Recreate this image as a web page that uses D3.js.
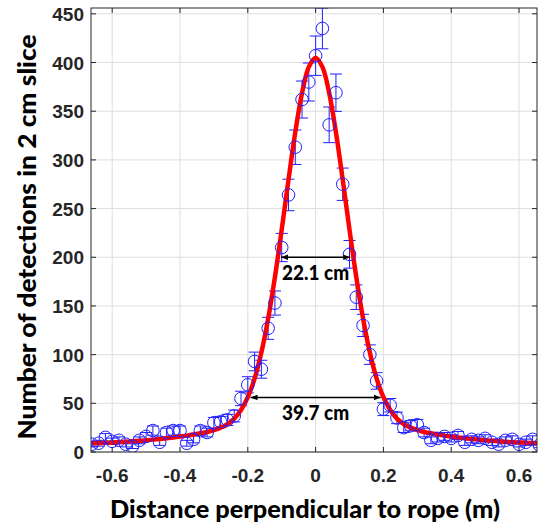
<!DOCTYPE html>
<html>
<head>
<meta charset="utf-8">
<script src="https://cdn.jsdelivr.net/npm/d3@7/dist/d3.min.js"></script>
<style>
  html, body { margin: 0; padding: 0; background: #fff; }
  svg { display: block; }
</style>
</head>
<body>
<svg id="chart" width="538" height="524"></svg>
<script>
// ---- data ----
const xs = [-0.66,-0.64,-0.62,-0.60,-0.58,-0.56,-0.54,-0.52,-0.50,-0.48,-0.46,-0.44,-0.42,-0.40,-0.38,-0.36,-0.34,-0.32,-0.30,-0.28,-0.26,-0.24,-0.22,-0.20,-0.18,-0.16,-0.14,-0.12,-0.10,-0.08,-0.06,-0.04,-0.02,0.00,0.02,0.04,0.06,0.08,0.10,0.12,0.14,0.16,0.18,0.20,0.22,0.24,0.26,0.28,0.30,0.32,0.34,0.36,0.38,0.40,0.42,0.44,0.46,0.48,0.50,0.52,0.54,0.56,0.58,0.60,0.62,0.64,0.66];
const counts = [8,9,15,11,12,8,6,12,16,22,10,20,22,22,9,13,22,20,30,31,33,37,55,69,93,85,127,153,210,264,313,362,380,407,435,336,369,275,203,159,130,100,73,44,48,35,25,27,28,20,12,14,16,14,17,10,13,12,14,10,8,12,13,8,10,13,7];
const errors = [2.8,3.0,3.9,3.3,3.5,2.8,2.4,3.5,4.0,4.7,3.2,4.5,4.7,4.7,3.0,3.6,4.7,4.5,5.5,5.6,5.7,6.1,7.4,8.3,9.6,9.2,11.3,12.4,14.5,16.2,17.7,19.0,19.5,20.2,20.9,18.3,19.2,16.6,14.2,12.6,11.4,10.0,8.5,6.6,6.9,5.9,5.0,5.2,5.3,4.5,3.5,3.7,4.0,3.7,4.1,3.2,3.6,3.5,3.7,3.2,2.8,3.5,3.6,2.8,3.2,3.6,2.6];
const fitY = [9.0,9.2,9.5,9.8,10.1,10.5,11.0,11.5,12.0,12.7,13.4,14.1,15.0,15.9,16.8,17.9,19.2,20.6,22.5,25.0,28.7,34.3,43.1,56.3,75.4,102.1,136.9,179.6,228.2,279.6,328.3,368.7,395.5,405,395.5,368.7,328.3,279.6,228.2,179.6,136.9,102.1,75.4,56.3,43.1,34.3,28.7,25.0,22.5,20.6,19.2,17.9,16.8,15.9,15.0,14.1,13.4,12.7,12.0,11.5,11.0,10.5,10.1,9.8,9.5,9.2,9.0];
const xTicks = [-0.6,-0.4,-0.2,0,0.2,0.4,0.6];
const xTickLabels = ["-0.6","-0.4","-0.2","0","0.2","0.4","0.6"];
const yTicks = [0,50,100,150,200,250,300,350,400,450];
const annotations = [
  {label: "22.1 cm", x0: -0.102, x1: 0.102, y: 200},
  {label: "39.7 cm", x0: -0.192, x1: 0.192, y: 56}
];
const xTitle = "Distance perpendicular to rope (m)";
const yTitle = "Number of detections in 2 cm slice";

// ---- layout ----
const L = 91, R = 537, T = 8, B = 452;
const svg = d3.select("#chart");
const x = d3.scaleLinear().domain([-0.6625, 0.653]).range([L, R]);
const y = d3.scaleLinear().domain([0, 456]).range([B, T]);
const axisColor = "#262626";

// grid
const grid = svg.append("g");
grid.selectAll(".gx").data(xTicks).join("line")
  .attr("x1", d => x(d)).attr("x2", d => x(d)).attr("y1", T).attr("y2", B)
  .attr("stroke", "#dedede").attr("stroke-width", 1);
grid.selectAll(".gy").data(yTicks).join("line")
  .attr("x1", L).attr("x2", R).attr("y1", d => y(d)).attr("y2", d => y(d))
  .attr("stroke", "#dedede").attr("stroke-width", 1);

// clip
svg.append("defs").append("clipPath").attr("id", "clip")
  .append("rect").attr("x", L).attr("y", T).attr("width", R - L).attr("height", B - T);
const plot = svg.append("g").attr("clip-path", "url(#clip)");

const blue = "#1f1fff";
const pts = xs.map((v, i) => ({x: v, c: counts[i], e: errors[i]}));

// error bars
const eb = plot.append("g").attr("stroke", blue).attr("stroke-width", 1).attr("fill", "none");
pts.forEach(p => {
  const cx = x(p.x), yt = y(p.c + p.e), yb = y(p.c - p.e);
  eb.append("line").attr("x1", cx).attr("x2", cx).attr("y1", yt).attr("y2", yb);
  eb.append("line").attr("x1", cx - 6).attr("x2", cx + 6).attr("y1", yt).attr("y2", yt);
  eb.append("line").attr("x1", cx - 6).attr("x2", cx + 6).attr("y1", yb).attr("y2", yb);
});

// fit line
const line = d3.line().x((d, i) => x(xs[i])).y(d => y(d)).curve(d3.curveCatmullRom.alpha(0.5));
plot.append("path").datum(fitY).attr("d", line)
  .attr("fill", "none").attr("stroke", "#ff0000").attr("stroke-width", 4.5)
  .attr("stroke-linejoin", "round");

// markers
plot.append("g").selectAll("circle").data(pts).join("circle")
  .attr("cx", d => x(d.x)).attr("cy", d => y(d.c)).attr("r", 6.3)
  .attr("fill", "none").attr("stroke", blue).attr("stroke-width", 1);

// frame
const frame = svg.append("g").attr("stroke", axisColor).attr("stroke-width", 1).attr("fill", "none");
frame.append("rect").attr("x", L).attr("y", T).attr("width", R - L).attr("height", B - T);
xTicks.forEach(t => {
  frame.append("line").attr("x1", x(t)).attr("x2", x(t)).attr("y1", B).attr("y2", B - 5);
  frame.append("line").attr("x1", x(t)).attr("x2", x(t)).attr("y1", T).attr("y2", T + 5);
});
yTicks.forEach(t => {
  frame.append("line").attr("x1", L).attr("x2", L + 5).attr("y1", y(t)).attr("y2", y(t));
  frame.append("line").attr("x1", R).attr("x2", R - 5).attr("y1", y(t)).attr("y2", y(t));
});

// tick labels
const tickFont = "'Liberation Sans', Arial, sans-serif";
svg.append("g").selectAll("text").data(xTicks).join("text")
  .attr("x", d => x(d)).attr("y", 482).attr("text-anchor", "middle")
  .attr("font-family", tickFont).attr("font-weight", "bold").attr("font-size", 19)
  .attr("fill", axisColor).text((d, i) => xTickLabels[i]);
svg.append("g").selectAll("text").data(yTicks).join("text")
  .attr("x", 84).attr("y", d => y(d) + 7).attr("text-anchor", "end")
  .attr("font-family", tickFont).attr("font-weight", "bold").attr("font-size", 19)
  .attr("fill", axisColor).text(d => d);

// axis titles
const titleFont = "Lato, 'Open Sans', sans-serif";
svg.append("text").attr("x", 305).attr("y", 518).attr("text-anchor", "middle")
  .attr("font-family", titleFont).attr("font-weight", 900).attr("font-size", 24)
  .attr("textLength", 390).attr("lengthAdjust", "spacingAndGlyphs")
  .attr("fill", "#000").text(xTitle);
svg.append("text").attr("transform", "translate(36,237) rotate(-90)").attr("text-anchor", "middle")
  .attr("font-family", titleFont).attr("font-weight", 900).attr("font-size", 24)
  .attr("textLength", 405).attr("lengthAdjust", "spacingAndGlyphs")
  .attr("fill", "#000").text(yTitle);

// annotations
const defs = svg.select("defs");
defs.append("marker").attr("id", "ah").attr("viewBox", "0 0 10 10")
  .attr("refX", 10).attr("refY", 5).attr("markerWidth", 7).attr("markerHeight", 7)
  .attr("markerUnits", "userSpaceOnUse").attr("orient", "auto-start-reverse")
  .append("path").attr("d", "M0,1 L10,5 L0,9 Z").attr("fill", "#000");
const ann = svg.append("g");
annotations.forEach(a => {
  ann.append("line").attr("x1", x(a.x0)).attr("x2", x(a.x1)).attr("y1", y(a.y)).attr("y2", y(a.y))
    .attr("stroke", "#000").attr("stroke-width", 1.5)
    .attr("marker-start", "url(#ah)").attr("marker-end", "url(#ah)");
  ann.append("text").attr("x", x(0)).attr("y", y(a.y) + 23).attr("text-anchor", "middle")
    .attr("font-family", titleFont).attr("font-weight", 900).attr("font-size", 20)
    .attr("textLength", 67).attr("lengthAdjust", "spacingAndGlyphs")
    .attr("fill", "#000").text(a.label);
});
</script>
</body>
</html>
